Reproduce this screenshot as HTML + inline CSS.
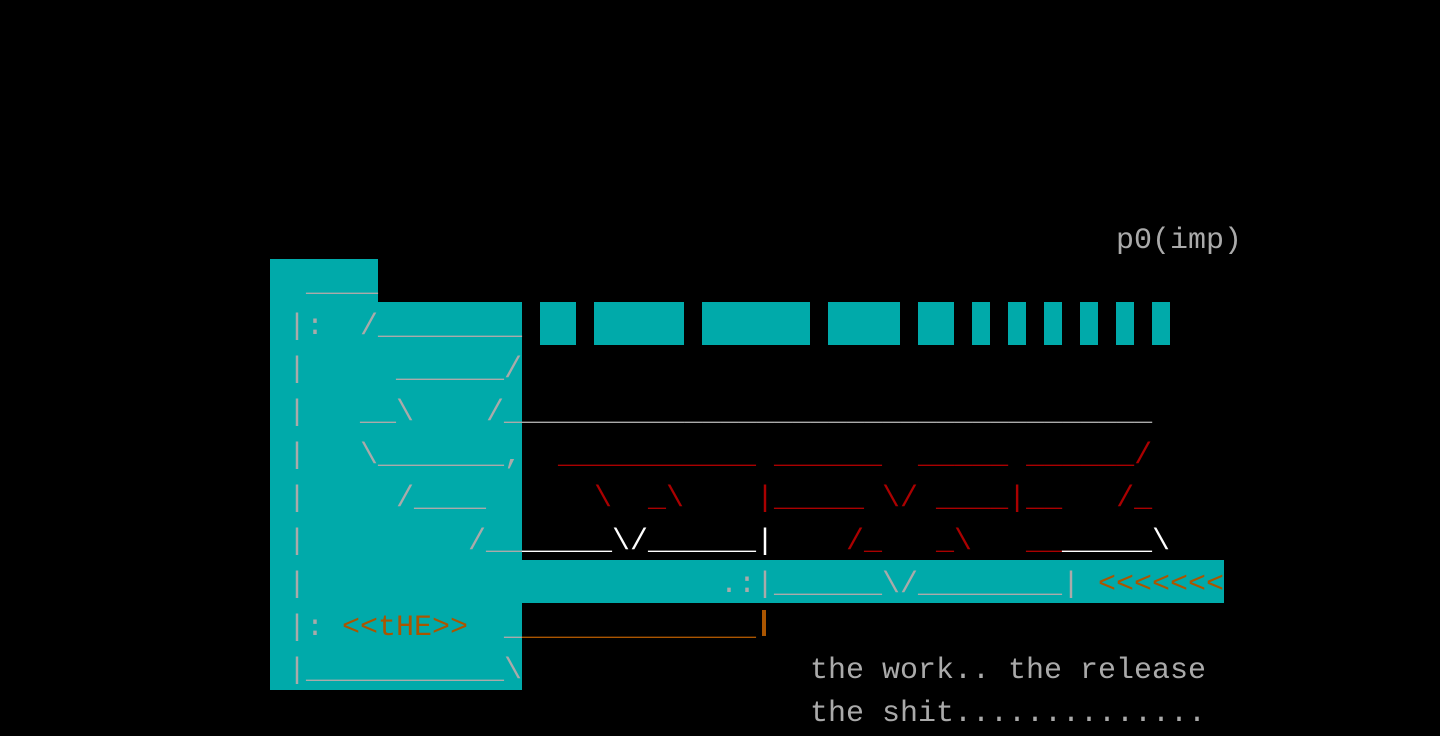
<!DOCTYPE html>
<html><head><meta charset="utf-8"><style>
html,body{margin:0;padding:0;background:#000;width:1440px;height:734px;overflow:hidden}
.t{position:absolute;background:#00AAAA}
pre{position:absolute;margin:0;margin-top:4px;font-family:"Liberation Mono",monospace;font-size:30px;line-height:43px;height:43px;color:#AAAAAA;white-space:pre}
.r{color:#AA0000}.w{color:#FFFFFF}.o{color:#AA5500}
</style></head><body>
<div class="t" style="left:270px;top:259px;width:108px;height:43px"></div>
<div class="t" style="left:270px;top:302px;width:252px;height:388px"></div>
<div class="t" style="left:522px;top:560px;width:702px;height:43px"></div>
<div class="t" style="left:540px;top:302px;width:36px;height:43px"></div>
<div class="t" style="left:594px;top:302px;width:90px;height:43px"></div>
<div class="t" style="left:702px;top:302px;width:108px;height:43px"></div>
<div class="t" style="left:828px;top:302px;width:72px;height:43px"></div>
<div class="t" style="left:918px;top:302px;width:36px;height:43px"></div>
<div class="t" style="left:972px;top:302px;width:18px;height:43px"></div>
<div class="t" style="left:1008px;top:302px;width:18px;height:43px"></div>
<div class="t" style="left:1044px;top:302px;width:18px;height:43px"></div>
<div class="t" style="left:1080px;top:302px;width:18px;height:43px"></div>
<div class="t" style="left:1116px;top:302px;width:18px;height:43px"></div>
<div class="t" style="left:1152px;top:302px;width:18px;height:43px"></div>

<pre style="left:1116px;top:216px">p0(imp)</pre>
<pre style="left:306px;top:259px">____</pre>
<pre style="left:288px;top:302px">|:  /________</pre>
<pre style="left:288px;top:345px">|     ______/</pre>
<pre style="left:288px;top:388px">|   __\    /____________________________________</pre>
<pre style="left:288px;top:431px">|   \_______,</pre>
<pre class="r" style="left:558px;top:431px">___________ ______  _____ ______/</pre>
<pre style="left:288px;top:474px">|     /____</pre>
<pre class="r" style="left:594px;top:474px">\  _\    |_____ \/ ____|__   /_</pre>
<pre style="left:288px;top:517px">|         /__</pre>
<pre class="w" style="left:522px;top:517px">_____\/______|</pre>
<pre class="r" style="left:846px;top:517px">/_   _\   ___</pre>
<pre class="w" style="left:1062px;top:517px">_____\</pre>
<pre style="left:288px;top:560px">|</pre>
<pre style="left:720px;top:560px">.:|______\/________|</pre>
<pre class="o" style="left:1098px;top:560px">&lt;&lt;&lt;&lt;&lt;&lt;&lt;</pre>
<pre style="left:288px;top:603px">|:</pre>
<pre class="o" style="left:342px;top:603px">&lt;&lt;tHE&gt;&gt;</pre>
<pre style="left:504px;top:603px">_</pre>
<pre class="o" style="left:522px;top:603px">_____________</pre>
<div style="position:absolute;left:762px;top:610px;width:4px;height:26px;background:#AA5500"></div>
<pre style="left:288px;top:646px">|___________\</pre>
<pre style="left:810px;top:646px">the work.. the release</pre>
<pre style="left:810px;top:689px">the shit..............</pre>
</body></html>
